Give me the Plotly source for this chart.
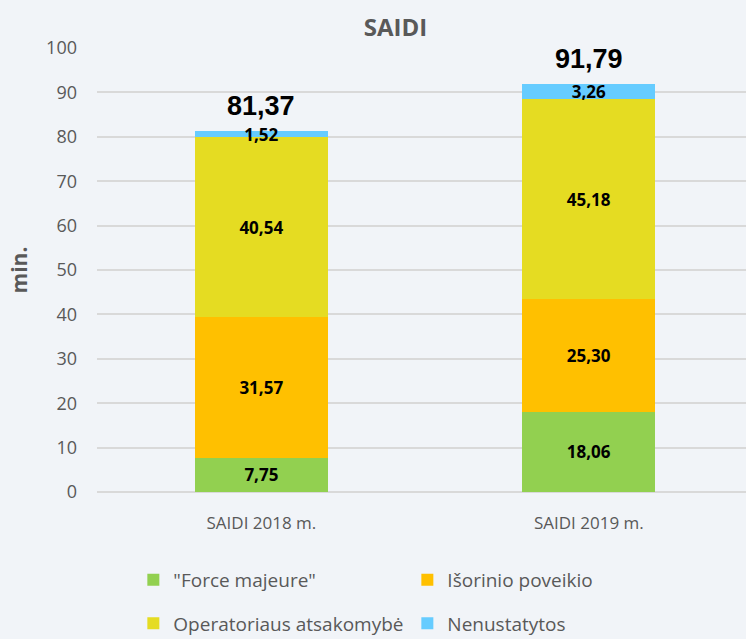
import plotly.graph_objects as go

categories = ["SAIDI 2018 m.", "SAIDI 2019 m."]
series_names = ['"Force majeure"', "Išorinio poveikio", "Operatoriaus atsakomybė", "Nenustatytos"]
force_majeure = [7.75, 18.06]
isorinio = [31.57, 25.30]
operatoriaus = [40.54, 45.18]
nenustatytos = [1.52, 3.26]
totals = [81.37, 91.79]
colors = ["#92D050", "#FFC000", "#E5DC22", "#66CCFF"]
y_ticks = list(range(0, 101, 10))

font_main = "Open Sans"
font_total = "Liberation Sans"
legend_ids = ["legend", "legend", "legend2", "legend2"]

fig = go.Figure()
for name, vals, col, lg in zip(series_names, [force_majeure, isorinio, operatoriaus, nenustatytos], colors, legend_ids):
    fig.add_trace(go.Bar(
        x=categories, y=vals, name=name, marker=dict(color=col, line=dict(width=0)),
        texttemplate="<b>%{y:.2f}</b>", textposition="inside", insidetextanchor="middle",
        textfont=dict(family=font_main, size=17, color="black"), constraintext="none",
        hoverinfo="skip", legend=lg,
    ))

for c, t in zip(categories, totals):
    fig.add_annotation(x=c, y=t, text="<b>" + f"{t:.2f}".replace(".", ",") + "</b>",
                       showarrow=False, yanchor="bottom", yshift=8,
                       font=dict(family=font_total, size=27, color="black"))

legend_common = dict(orientation="h", xanchor="left", yanchor="middle",
                     traceorder="normal", entrywidth=229, entrywidthmode="pixels",
                     itemwidth=30, font=dict(family=font_main, size=19, color="#595959"),
                     bgcolor="rgba(0,0,0,0)")

fig.update_layout(
    width=746, height=639,
    barmode="stack", bargap=0.594,
    separators=", ",
    paper_bgcolor="#F1F4F8", plot_bgcolor="#F1F4F8",
    margin=dict(l=97, r=0, t=48, b=147, autoexpand=False),
    title=dict(text="<b>SAIDI</b>", x=0.53, xanchor="center", y=0.957, yanchor="middle",
               font=dict(family=font_main, size=24, color="#595959")),
    font=dict(family=font_main, color="#595959"),
    showlegend=True,
    legend=dict(x=0.056, y=-0.198, **legend_common),
    legend2=dict(x=0.056, y=-0.296, **legend_common),
)
fig.update_yaxes(range=[0, 100], tickvals=y_ticks, showgrid=True, gridcolor="#D9D9D9", gridwidth=1.5,
                 zeroline=True, zerolinecolor="#D9D9D9", zerolinewidth=1.5,
                 tickfont=dict(family=font_main, size=18, color="#595959"), ticks="", ticklabelstandoff=19,
                 title=dict(text="<b>min.</b>", font=dict(family=font_main, size=21, color="#595959"), standoff=12))
fig.update_xaxes(showgrid=False, range=[-0.502, 1.48],
                 tickfont=dict(family=font_main, size=17, color="#595959"), ticklabelstandoff=19)

fig.write_html("out.html", config={"displayModeBar": False},
               post_script="document.body.style.margin='0';document.body.style.background='#F1F4F8';")
